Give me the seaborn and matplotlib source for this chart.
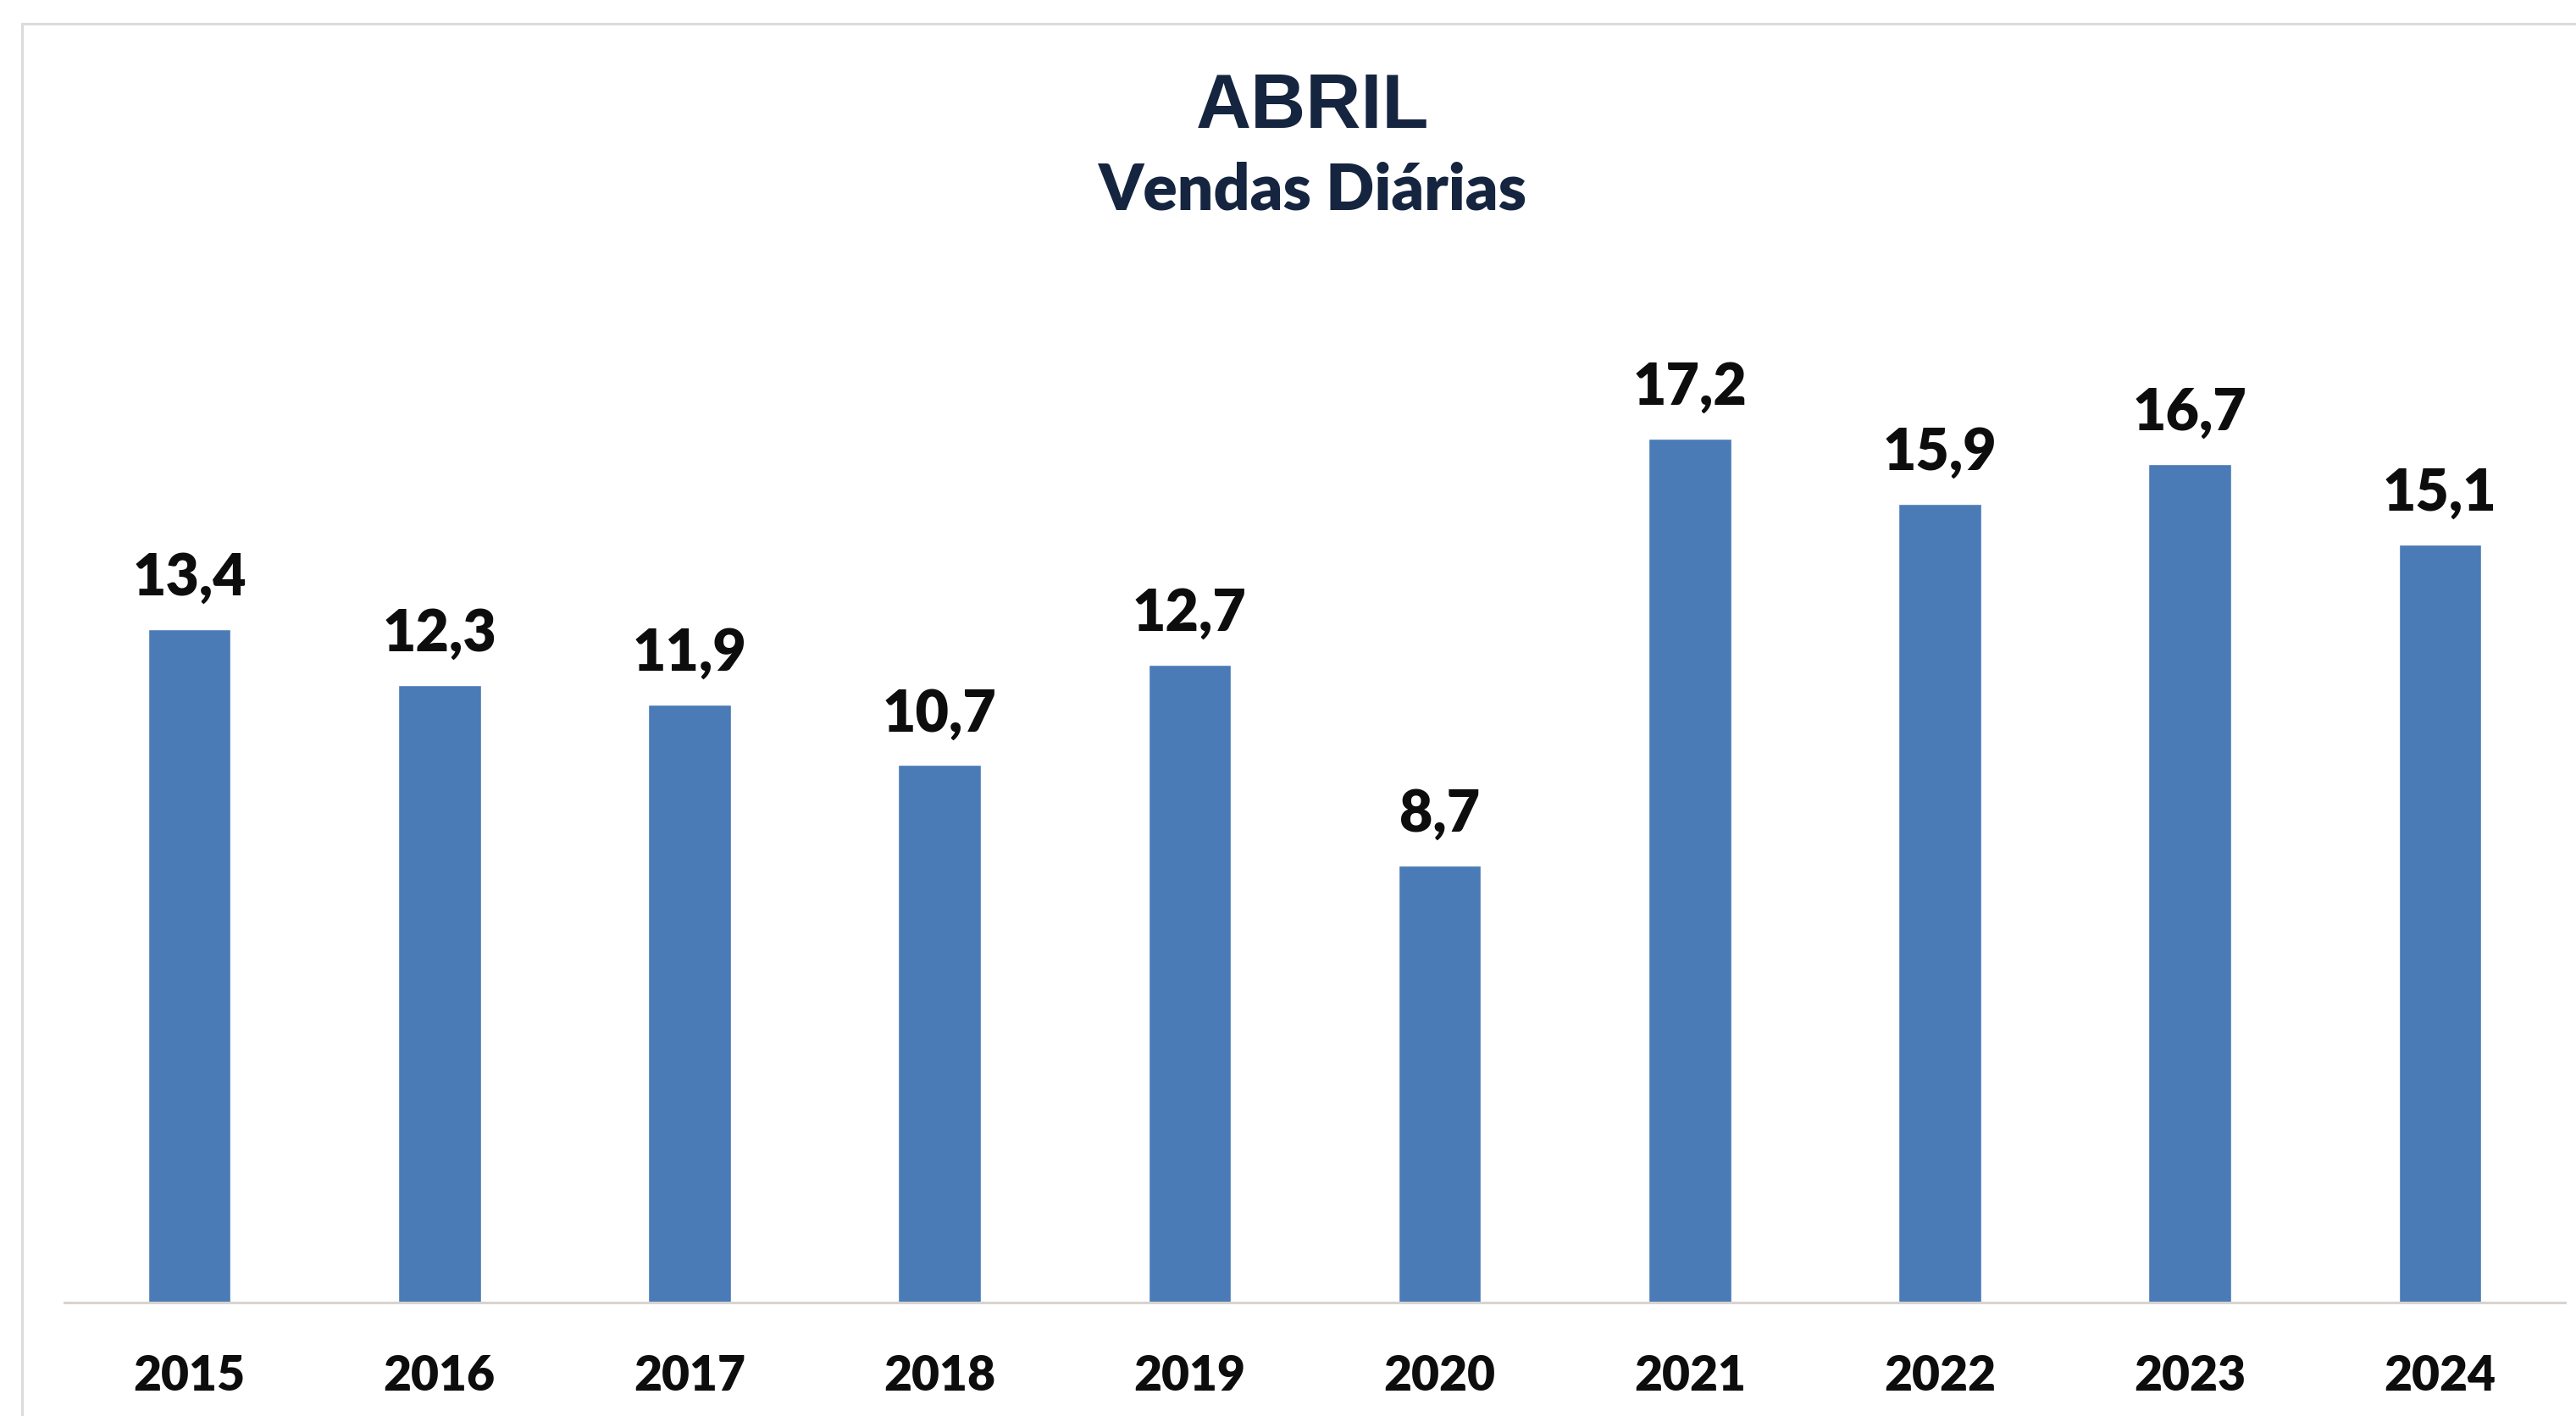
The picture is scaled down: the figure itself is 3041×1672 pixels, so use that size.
import matplotlib
matplotlib.use("Agg")
import matplotlib.pyplot as plt
import matplotlib.patches as mpatches
import seaborn as sns
import pandas as pd

# ---- data ----
years = ["2015", "2016", "2017", "2018", "2019", "2020", "2021", "2022", "2023", "2024"]
vendas = [13.4, 12.3, 11.9, 10.7, 12.7, 8.7, 17.2, 15.9, 16.7, 15.1]
title_main = "ABRIL"
title_sub = "Vendas Diárias"

BAR_COLOR = "#4A7BB6"
NAVY = "#15243F"
WEIGHT = "heavy"

sns.set_theme(style="white")
plt.rcParams["font.family"] = ["Lato", "DejaVu Sans"]

W, H = 3041, 1672
fig = plt.figure(figsize=(W / 100, H / 100), dpi=100)
fig.patch.set_facecolor("white")

# light frame around the chart (top and left edges visible)
frame = mpatches.Rectangle((26 / W, -0.2), 1.3, 1.2 - 28 / H,
                           transform=fig.transFigure, fill=False,
                           edgecolor="#DCDADA", linewidth=2.2, zorder=0)
fig.add_artist(frame)

left, right = 76 / W, 3028 / W
bottom = 1 - 1538 / H
top = 1 - 352 / H
ax = fig.add_axes([left, bottom, right - left, top - bottom])

df = pd.DataFrame({"ano": years, "vendas": vendas})
sns.barplot(data=df, x="ano", y="vendas", color=BAR_COLOR, saturation=1,
            width=0.33, ax=ax)

ax.set_xlim(-0.5, len(years) - 0.5)
ax.set_ylim(0, 20)
ax.set_xlabel("")
ax.set_ylabel("")
ax.set_yticks([])
for s in ["top", "left", "right"]:
    ax.spines[s].set_visible(False)
ax.spines["bottom"].set_color("#D9D4D0")
ax.spines["bottom"].set_linewidth(2.2)
ax.tick_params(axis="x", length=0, pad=44)
for lbl in ax.get_xticklabels():
    lbl.set_fontsize(41)
    lbl.set_fontweight(WEIGHT)
    lbl.set_color("#0D0D0D")

for i, v in enumerate(vendas):
    ax.annotate(f"{v:.1f}".replace(".", ","), xy=(i, v), xytext=(0, 29),
                textcoords="offset points", ha="center", va="baseline",
                fontsize=49, fontweight=WEIGHT, color="#0D0D0D")

fig.text(1550 / W, 1 - 151 / H, title_main, ha="center", va="baseline",
         fontsize=65, fontweight="bold", color=NAVY,
         family=["Liberation Sans", "DejaVu Sans"])
fig.text(1550 / W, 1 - 248 / H, title_sub, ha="center", va="baseline",
         fontsize=54, fontweight=WEIGHT, color=NAVY)

fig.savefig("out.png", dpi=100, facecolor="white")
